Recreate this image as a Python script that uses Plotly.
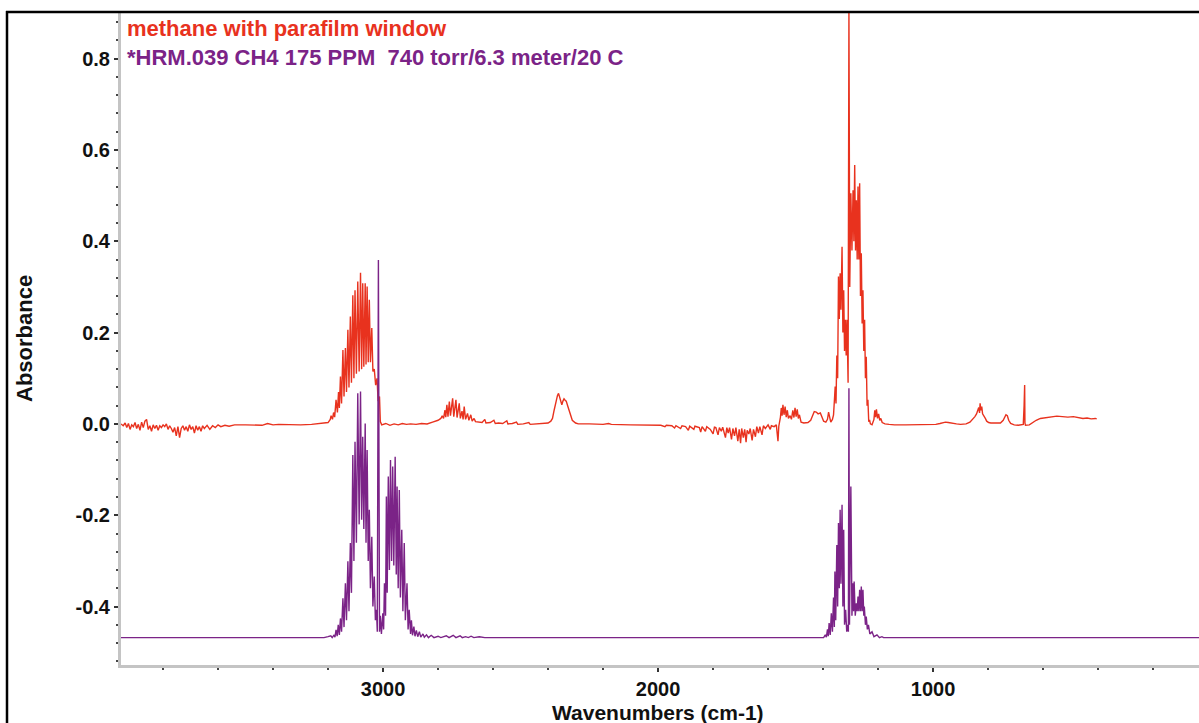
import plotly.graph_objects as go

# ---------------- data ----------------
# Red: "methane with parafilm window"  (wavenumber cm-1, absorbance)
red_hf_wn = [3953, 3945, 3938, 3932, 3926, 3920, 3914, 3908, 3902, 3896, 3890, 3884, 3878, 3872,
             3866, 3860, 3854, 3848, 3842, 3836, 3830, 3824, 3818, 3812, 3806, 3800, 3794, 3788,
             3782, 3776, 3770, 3764, 3758, 3752, 3746, 3740, 3734, 3728, 3722, 3716, 3710, 3704,
             3698, 3692, 3686, 3680, 3674, 3668, 3662, 3656, 3650, 3640, 3630, 3620, 3610, 3600,
             3590, 3575, 3560, 3540, 3500, 3440, 3420, 3400, 3380, 3330, 3300, 3260, 3230, 3200]
red_hf_ab = [0.000, -0.004, 0.002, -0.008, 0.001, -0.012, -0.002, -0.006, 0.003, -0.010, -0.001,
             -0.014, 0.004, -0.008, 0.006, 0.010, -0.012, -0.004, -0.016, -0.002, -0.010, -0.003,
             -0.014, -0.004, -0.008, -0.002, -0.006, 0.000, -0.012, -0.004, -0.010, -0.018, -0.008,
             -0.026, -0.006, -0.030, -0.010, -0.004, -0.014, -0.006, -0.016, -0.002, -0.012, -0.006,
             -0.020, -0.004, -0.014, -0.006, -0.016, -0.004, -0.010, -0.003, -0.012, -0.004, -0.008,
             -0.002, -0.006, -0.003, -0.005, -0.002, -0.002, -0.003, 0.001, -0.002, -0.001, -0.002,
             -0.002, -0.001, 0.001, 0.003]

red_v3_wn = [3192, 3189, 3184, 3180, 3176, 3171, 3166, 3162, 3159, 3155, 3151, 3146, 3142, 3137,
             3133, 3128, 3124, 3119, 3115, 3110, 3106, 3102, 3097, 3092, 3087, 3082, 3078, 3074,
             3070, 3065, 3062, 3058, 3054, 3050, 3046, 3041, 3037, 3032, 3027, 3022, 3018, 3013,
             3010, 3005]
red_v3_ab = [0.010, 0.018, 0.010, 0.025, 0.015, 0.053, 0.025, 0.070, 0.035, 0.104, 0.045, 0.162,
             0.060, 0.166, 0.070, 0.206, 0.080, 0.235, 0.090, 0.282, 0.100, 0.293, 0.110, 0.312,
             0.115, 0.331, 0.120, 0.308, 0.125, 0.308, 0.130, 0.301, 0.135, 0.272, 0.135, 0.210,
             0.115, 0.120, 0.085, 0.100, 0.050, 0.060, 0.005, -0.002]

red_mid_wn = [2990, 2975, 2960, 2945, 2930, 2915, 2900, 2880, 2860, 2840, 2820, 2800, 2790, 2785,
              2780, 2775, 2772, 2768, 2764, 2759, 2755, 2751, 2747, 2743, 2739, 2735, 2731, 2727,
              2723, 2719, 2713, 2709, 2705, 2700, 2693, 2688, 2681, 2676, 2669, 2664, 2650, 2640,
              2630, 2626, 2610, 2597, 2592, 2580, 2565, 2550, 2546, 2530, 2515, 2510, 2490, 2470,
              2465, 2440, 2420, 2400, 2390]
red_mid_ab = [0.001, -0.003, 0.000, -0.002, 0.001, -0.001, 0.000, -0.001, 0.001, 0.000, 0.004,
              0.008, 0.012, 0.018, 0.012, 0.030, 0.015, 0.042, 0.016, 0.049, 0.018, 0.038, 0.056,
              0.016, 0.040, 0.053, 0.014, 0.035, 0.045, 0.012, 0.028, 0.010, 0.038, 0.010, 0.023,
              0.008, 0.020, 0.006, 0.012, 0.005, 0.004, 0.003, 0.010, 0.002, 0.003, 0.008, 0.001,
              0.002, 0.001, 0.007, 0.000, 0.001, 0.004, -0.001, 0.000, 0.003, -0.001, 0.000, 0.001,
              0.002, 0.006]

red_co2_wn = [2384, 2378, 2372, 2366, 2362, 2358, 2354, 2350, 2346, 2342, 2338, 2334, 2328, 2320,
              2312, 2300, 2290]
red_co2_ab = [0.012, 0.030, 0.050, 0.062, 0.067, 0.060, 0.048, 0.042, 0.050, 0.055, 0.052, 0.050,
              0.038, 0.020, 0.008, 0.002, 0.000]

red_h2o_wn = [2250, 2200, 2180, 2170, 2100, 2050, 2000, 1990, 1975, 1970, 1950, 1940, 1935, 1918,
              1913, 1900, 1890, 1885, 1870, 1866, 1850, 1845, 1840, 1828, 1823, 1810, 1800, 1795,
              1790, 1782, 1777, 1770, 1765, 1755, 1750, 1745, 1740, 1733, 1728, 1722, 1717, 1710,
              1705, 1700, 1696, 1690, 1685, 1680, 1676, 1670, 1665, 1658, 1653, 1646, 1641, 1635,
              1630, 1622, 1617, 1610, 1600, 1592, 1588, 1578, 1570, 1564, 1561, 1558]
red_h2o_ab = [0.000, -0.001, 0.001, -0.001, -0.002, -0.002, -0.003, -0.003, -0.006, -0.003, -0.004,
              -0.009, -0.004, -0.010, -0.004, -0.006, -0.014, -0.005, -0.012, -0.005, -0.008,
              -0.018, -0.006, -0.016, -0.006, -0.012, -0.022, -0.007, -0.008, -0.024, -0.008,
              -0.016, -0.007, -0.030, -0.008, -0.020, -0.008, -0.034, -0.010, -0.026, -0.008,
              -0.038, -0.012, -0.042, -0.010, -0.030, -0.012, -0.040, -0.014, -0.022, -0.010,
              -0.036, -0.012, -0.028, -0.006, -0.020, -0.006, -0.024, -0.004, -0.010, -0.002,
              -0.012, -0.004, -0.006, -0.002, -0.038, -0.005, 0.004]

red_1500_wn = [1555, 1552, 1549, 1546, 1542, 1538, 1534, 1530, 1526, 1520, 1515, 1510, 1506, 1502,
               1498, 1494, 1490, 1486, 1480, 1470, 1455, 1445, 1438, 1432, 1425, 1418, 1410, 1404,
               1398, 1390, 1384, 1380, 1376, 1372, 1366]
red_1500_ab = [0.015, 0.035, 0.018, 0.042, 0.020, 0.038, 0.015, 0.030, 0.012, 0.018, 0.010, 0.030,
               0.014, 0.035, 0.016, 0.032, 0.012, 0.020, 0.004, 0.002, 0.003, 0.008, 0.020, 0.027,
               0.026, 0.022, 0.024, 0.016, 0.006, 0.004, 0.010, 0.026, 0.012, 0.004, 0.010]

red_v4_wn = [1362, 1358, 1356, 1353, 1350, 1347, 1344, 1341, 1338, 1335, 1331, 1328, 1325, 1322,
             1319, 1316, 1313, 1309, 1306, 1303, 1299, 1295, 1291, 1288, 1285, 1282, 1279, 1276,
             1273, 1270, 1267, 1264, 1261, 1258, 1255, 1252, 1249, 1246, 1243, 1240, 1237, 1234,
             1231, 1228]
red_v4_ab = [0.020, 0.060, 0.082, 0.045, 0.150, 0.100, 0.323, 0.230, 0.330, 0.250, 0.388, 0.200,
             0.293, 0.160, 0.228, 0.150, 0.228, 0.090, 0.905, 0.300, 0.505, 0.380, 0.512, 0.400,
             0.567, 0.380, 0.490, 0.360, 0.520, 0.360, 0.527, 0.280, 0.374, 0.220, 0.293, 0.160,
             0.228, 0.100, 0.147, 0.040, 0.053, 0.005, 0.009, 0.000]

red_low_wn = [1222, 1215, 1212, 1209, 1206, 1202, 1198, 1194, 1190, 1185, 1175, 1160, 1140, 1100,
              1060, 1020, 990, 975, 965, 955, 945, 930, 915, 900, 880, 866, 856, 848, 842, 838,
              834, 831, 829, 826, 823, 820, 815, 810, 805, 798, 790, 780, 770, 755, 745, 740, 735,
              730, 725, 718, 705, 690, 680, 672, 669, 668, 667, 666, 664, 650, 640, 625, 610, 590,
              570, 550, 530, 510, 490, 470, 455, 440, 425, 410, 405]
red_low_ab = [-0.002, 0.010, 0.030, 0.015, 0.032, 0.012, 0.022, 0.008, 0.012, 0.003, 0.000,
              -0.001, -0.002, -0.002, -0.002, -0.002, -0.001, 0.001, 0.003, 0.004, 0.003, 0.001,
              0.000, -0.001, 0.000, 0.004, 0.010, 0.016, 0.022, 0.028, 0.036, 0.024, 0.045, 0.030,
              0.038, 0.022, 0.018, 0.012, 0.006, 0.003, 0.002, 0.002, 0.002, 0.002, 0.008, 0.016,
              0.020, 0.018, 0.008, 0.001, -0.002, -0.003, -0.002, -0.001, 0.040, 0.085, 0.085,
              0.002, -0.003, -0.002, 0.002, 0.008, 0.012, 0.014, 0.016, 0.017, 0.016, 0.015, 0.016,
              0.014, 0.012, 0.013, 0.011, 0.012, 0.011]

# Purple: "*HRM.039 CH4 175 PPM 740 torr/6.3 meter/20 C"
pur_v3_wn = [3953, 3215, 3200, 3190, 3185, 3178, 3175, 3171, 3167, 3163, 3159, 3155, 3151, 3146,
             3142, 3137, 3133, 3128, 3124, 3119, 3115, 3110, 3106, 3102, 3097, 3092, 3087, 3082,
             3078, 3074, 3070, 3065, 3062, 3058, 3054, 3050, 3046, 3041, 3037, 3032, 3028, 3024,
             3021, 3017, 3013, 3010, 3006, 3001, 2998, 2995, 2991, 2988, 2985, 2981, 2977, 2973,
             2969, 2965, 2961, 2956, 2952, 2949, 2945, 2941, 2937, 2932, 2928, 2923, 2919, 2913,
             2909, 2905, 2900, 2897, 2893, 2888, 2884, 2879, 2874, 2868, 2863, 2855, 2850, 2842,
             2835, 2825, 2815, 2800, 2790, 2770, 2760, 2745, 2735, 2720, 2712, 2700, 2690, 2680,
             2670, 2650, 2630, 2620]
pur_v3_ab = [-0.468, -0.468, -0.466, -0.464, -0.468, -0.462, -0.467, -0.451, -0.465, -0.440,
             -0.462, -0.426, -0.455, -0.382, -0.445, -0.349, -0.430, -0.301, -0.410, -0.261,
             -0.370, -0.068, -0.300, -0.039, -0.260, 0.067, -0.220, 0.071, -0.210, -0.028, -0.230,
             0.001, -0.260, -0.057, -0.300, -0.188, -0.360, -0.247, -0.400, -0.334, -0.430,
             -0.407, -0.455, 0.359, -0.455, -0.420, -0.460, -0.415, -0.450, -0.349, -0.420,
             -0.159, -0.370, -0.115, -0.320, -0.079, -0.300, -0.093, -0.310, -0.072, -0.330,
             -0.137, -0.360, -0.145, -0.380, -0.232, -0.410, -0.261, -0.430, -0.349, -0.450,
             -0.407, -0.460, -0.430, -0.463, -0.444, -0.465, -0.452, -0.466, -0.455, -0.467,
             -0.460, -0.467, -0.462, -0.468, -0.463, -0.468, -0.465, -0.468, -0.464, -0.468,
             -0.463, -0.468, -0.464, -0.468, -0.466, -0.468, -0.465, -0.468, -0.466, -0.468,
             -0.468]

pur_v4_wn = [1398, 1392, 1388, 1384, 1381, 1378, 1374, 1370, 1366, 1362, 1359, 1357, 1354, 1350,
             1347, 1344, 1341, 1338, 1335, 1331, 1328, 1325, 1322, 1318, 1314, 1310, 1308, 1306,
             1304, 1299, 1295, 1291, 1289, 1287, 1283, 1279, 1276, 1273, 1270, 1267, 1264, 1261,
             1258, 1255, 1252, 1250, 1246, 1243, 1239, 1235, 1230, 1222, 1215, 1204, 1195, 1186,
             1180, 30]
pur_v4_ab = [-0.468, -0.462, -0.467, -0.450, -0.465, -0.436, -0.462, -0.415, -0.455, -0.380,
             -0.445, -0.323, -0.430, -0.265, -0.400, -0.217, -0.360, -0.188, -0.350, -0.177,
             -0.400, -0.232, -0.440, -0.407, -0.455, -0.440, -0.455, 0.078, -0.440, -0.137,
             -0.420, -0.349, -0.410, -0.345, -0.420, -0.393, -0.410, -0.378, -0.410, -0.363,
             -0.410, -0.356, -0.410, -0.363, -0.420, -0.400, -0.440, -0.422, -0.450, -0.440,
             -0.460, -0.455, -0.466, -0.462, -0.468, -0.466, -0.468, -0.468]

y_tickvals = [-0.4, -0.2, 0.0, 0.2, 0.4, 0.6, 0.8]
y_ticktext = ["-0.4", "-0.2", "0.0", "0.2", "0.4", "0.6", "0.8"]
x_tickvals = [3000, 2000, 1000]
x_ticktext = ["3000", "2000", "1000"]

RED = "#e8321e"
PURPLE = "#7b2387"
FONT = "Liberation Sans, Arial, sans-serif"

red_wn = red_hf_wn + red_v3_wn + red_mid_wn + red_co2_wn + red_h2o_wn + red_1500_wn + red_v4_wn + red_low_wn
red_ab = red_hf_ab + red_v3_ab + red_mid_ab + red_co2_ab + red_h2o_ab + red_1500_ab + red_v4_ab + red_low_ab
pur_wn = pur_v3_wn + pur_v4_wn
pur_ab = pur_v3_ab + pur_v4_ab

fig = go.Figure()
fig.add_trace(go.Scatter(x=red_wn, y=red_ab, mode="lines",
                         line=dict(color=RED, width=1.4), hoverinfo="skip", showlegend=False))
fig.add_trace(go.Scatter(x=pur_wn, y=pur_ab, mode="lines",
                         line=dict(color=PURPLE, width=1.4), hoverinfo="skip", showlegend=False))

W, H = 1199, 723
ml, mr, mt, mb = 121, 0, 13, 58
pw, ph = W - ml - mr, H - mt - mb


def px(xp):
    return (xp - ml) / pw


def py(yp):
    return (H - mb - yp) / ph


fig.update_layout(
    width=W, height=H,
    margin=dict(l=ml, r=mr, t=mt, b=mb, pad=0),
    paper_bgcolor="white", plot_bgcolor="white",
    font=dict(family=FONT, size=20, color="#111"),
    xaxis=dict(range=[3953, 33], showgrid=False, zeroline=False,
               showline=True, linecolor="#c4c4c4", linewidth=3,
               ticks="outside", ticklen=4, tickwidth=1.5, tickcolor="#333",
               tickvals=x_tickvals, ticktext=x_ticktext,
               tickfont=dict(family=FONT, size=20, weight="bold", color="#111"),
               minor=dict(dtick=200, tick0=0, ticks="outside", ticklen=2, tickwidth=1.5,
                          tickcolor="#444", showgrid=False)),
    yaxis=dict(range=[-0.528, 0.900], showgrid=False, zeroline=False,
               showline=True, linecolor="#c4c4c4", linewidth=3,
               ticks="outside", ticklen=4, tickwidth=1.5, tickcolor="#333",
               tickvals=y_tickvals, ticktext=y_ticktext,
               tickfont=dict(family=FONT, size=20, weight="bold", color="#111"),
               minor=dict(dtick=0.04, tick0=0, ticks="outside", ticklen=2, tickwidth=1.5,
                          tickcolor="#444", showgrid=False)),
    shapes=[
        dict(type="line", xref="paper", yref="paper", x0=px(7), x1=px(7), y0=py(740), y1=py(11),
             line=dict(color="black", width=2.5)),
        dict(type="line", xref="paper", yref="paper", x0=px(6), x1=1.02, y0=py(12), y1=py(12),
             line=dict(color="black", width=2.5)),
    ],
    annotations=[
        dict(text="methane with parafilm window", xref="paper", yref="paper",
             x=px(125), y=py(29), xanchor="left", yanchor="middle", showarrow=False,
             font=dict(family=FONT, size=22, weight="bold", color=RED)),
        dict(text="*HRM.039 CH4 175 PPM \u00a0740 torr/6.3 meter/20 C", xref="paper", yref="paper",
             x=px(125), y=py(57), xanchor="left", yanchor="middle", showarrow=False,
             font=dict(family=FONT, size=22, weight="bold", color=PURPLE)),
        dict(text="Absorbance", xref="paper", yref="paper", x=px(24), y=py(339),
             xanchor="center", yanchor="middle", textangle=-90, showarrow=False,
             font=dict(family=FONT, size=22, weight="bold", color="#111")),
        dict(text="Wavenumbers (cm-1)", xref="paper", yref="paper", x=px(658), y=py(712),
             xanchor="center", yanchor="middle", showarrow=False,
             font=dict(family=FONT, size=21, weight="bold", color="#111")),
    ],
)

fig.write_html("out.html")
